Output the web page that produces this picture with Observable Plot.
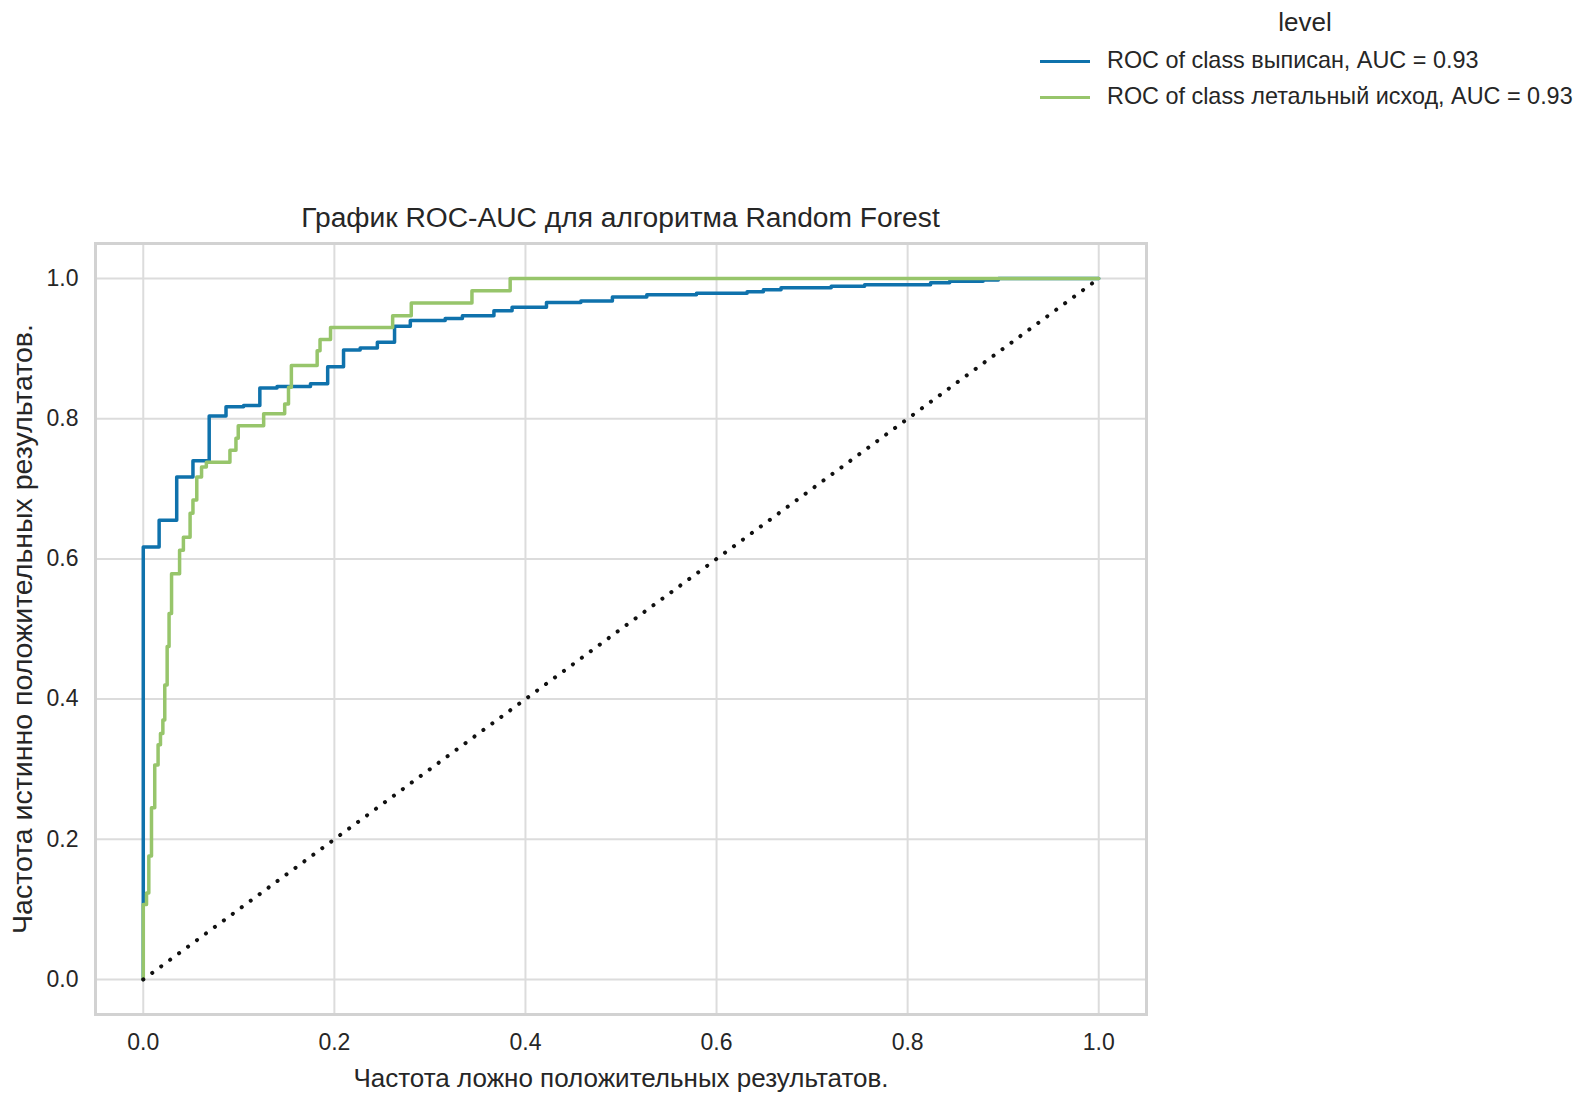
<!DOCTYPE html>
<html>
<head>
<meta charset="utf-8">
<script src="https://cdn.jsdelivr.net/npm/d3@7"></script>
<script src="https://cdn.jsdelivr.net/npm/@observablehq/plot@0.6"></script>
<style>
  html, body { margin: 0; padding: 0; background: #fff; }
  #wrap { position: relative; width: 1586px; height: 1097px; font-family: "Liberation Sans", Arial, sans-serif; color: #262626; }
  #chart { position: absolute; left: 0; top: 0; }
  .abs { position: absolute; white-space: nowrap; line-height: 1; }
  #title { left: 0; width: 1241px; text-align: center; top: 203px; font-size: 28.2px; }
  #legtitle { left: 1205px; width: 200px; text-align: center; top: 9px; font-size: 26px; }
  .legline { position: absolute; left: 1040px; width: 50px; height: 3.5px; }
  .legtext { left: 1107px; font-size: 23.4px; }
  #chart svg [aria-label="x-axis label"] text { font-size: 26px; }
  #chart svg [aria-label="y-axis label"] text { font-size: 28.5px; }
</style>
</head>
<body>
<div id="wrap">
  <div id="chart"></div>
  <div class="abs" id="title"></div>
  <div class="abs" id="legtitle"></div>
  <div id="legend"></div>
</div>
<script>
// ---- data ----
const titleText = "График ROC-AUC для алгоритма Random Forest";
const xLabel = "Частота ложно положительных результатов.";
const yLabel = "Частота истинно положительных результатов.";
const legendTitle = "level";
const seriesNames = ["ROC of class выписан, AUC = 0.93", "ROC of class летальный исход, AUC = 0.93"];
const seriesColors = ["#0f72ac", "#97c56b"];
const tickValues = [0.0, 0.2, 0.4, 0.6, 0.8, 1.0];

// class "выписан": fpr where tpr steps up, tpr after step
const fprDischarged = [0, 0, 0.0166, 0.035, 0.052, 0.069, 0.0866, 0.105, 0.122, 0.140, 0.175, 0.193, 0.2096, 0.227, 0.245, 0.263, 0.2795, 0.316, 0.334, 0.367, 0.386, 0.422, 0.458, 0.491, 0.527, 0.579, 0.632, 0.649, 0.6675, 0.72, 0.755, 0.824, 0.844, 0.879, 0.895, 1.0];
const tprDischarged = [0, 0.617, 0.655, 0.717, 0.740, 0.804, 0.817, 0.819, 0.844, 0.846, 0.850, 0.874, 0.898, 0.901, 0.909, 0.932, 0.940, 0.943, 0.947, 0.954, 0.959, 0.966, 0.968, 0.9735, 0.977, 0.979, 0.981, 0.984, 0.987, 0.989, 0.991, 0.994, 0.996, 0.998, 1.0, 1.0];

// class "летальный исход"
const fprDeath = [0, 0, 0.0034, 0.0058, 0.0086, 0.012, 0.0155, 0.018, 0.0205, 0.0225, 0.025, 0.027, 0.0296, 0.038, 0.042, 0.049, 0.052, 0.056, 0.061, 0.066, 0.0907, 0.097, 0.0994, 0.126, 0.148, 0.152, 0.155, 0.182, 0.185, 0.196, 0.261, 0.2805, 0.344, 0.384, 1.0];
const tprDeath = [0, 0.107, 0.1235, 0.176, 0.245, 0.306, 0.335, 0.351, 0.37, 0.42, 0.475, 0.522, 0.579, 0.6125, 0.631, 0.665, 0.684, 0.717, 0.731, 0.738, 0.755, 0.772, 0.79, 0.807, 0.821, 0.845, 0.876, 0.897, 0.913, 0.930, 0.947, 0.965, 0.9825, 1.0, 1.0];

// chance diagonal
const diagX = [0, 1];
const diagY = [0, 1];

// ---- build ----
const toRows = (xs, ys, name) => xs.map((x, i) => ({fpr: x, tpr: ys[i], name}));
const rowsA = toRows(fprDischarged, tprDischarged, seriesNames[0]);
const rowsB = toRows(fprDeath, tprDeath, seriesNames[1]);
const diag = toRows(diagX, diagY, "diag");

const chart = Plot.plot({
  width: 1586,
  height: 1097,
  marginLeft: 95,
  marginRight: 440,
  marginTop: 243,
  marginBottom: 83,
  style: {fontFamily: "'Liberation Sans', Arial, sans-serif", fontSize: "23px", color: "#262626", background: "transparent"},
  x: {domain: [-0.05, 1.05]},
  y: {domain: [-0.05, 1.05]},
  marks: [
    Plot.gridX(tickValues, {stroke: "#dcdcdc", strokeOpacity: 1, strokeWidth: 2}),
    Plot.gridY(tickValues, {stroke: "#dcdcdc", strokeOpacity: 1, strokeWidth: 2}),
    Plot.frame({stroke: "#d2d2d2", strokeWidth: 3}),
    Plot.axisX(tickValues, {tickFormat: d3.format(".1f"), tickSize: 0, tickPadding: 19, label: xLabel, labelAnchor: "center", labelArrow: "none", labelOffset: 72, fill: "#262626"}),
    Plot.axisY(tickValues, {tickFormat: d3.format(".1f"), tickSize: 0, tickPadding: 17, label: yLabel, labelAnchor: "center", labelArrow: "none", labelOffset: 84, fill: "#262626"}),
    Plot.line(rowsA, {x: "fpr", y: "tpr", curve: "step-after", stroke: seriesColors[0], strokeWidth: 3.5}),
    Plot.line(rowsB, {x: "fpr", y: "tpr", curve: "step-after", stroke: seriesColors[1], strokeWidth: 3.5}),
    Plot.line(diag, {x: "fpr", y: "tpr", stroke: "#111", strokeWidth: 4, strokeDasharray: "0.1,11", strokeLinecap: "round"})
  ]
});
document.getElementById("chart").appendChild(chart);

document.getElementById("title").textContent = titleText;
document.getElementById("legtitle").textContent = legendTitle;
const leg = document.getElementById("legend");
const rowTops = [49, 85];
const lineTops = [59.5, 95.5];
seriesNames.forEach((n, i) => {
  const l = document.createElement("div");
  l.className = "legline";
  l.style.top = lineTops[i] + "px";
  l.style.background = seriesColors[i];
  leg.appendChild(l);
  const t = document.createElement("div");
  t.className = "abs legtext";
  t.style.top = rowTops[i] + "px";
  t.textContent = n;
  leg.appendChild(t);
});
</script>
</body>
</html>
